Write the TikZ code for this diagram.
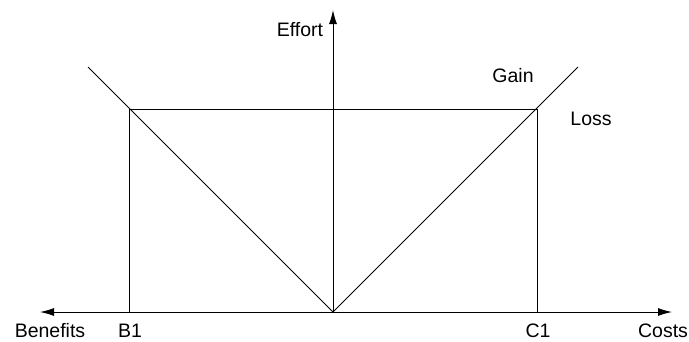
\documentclass[tikz,border=0pt]{standalone}
\usepackage{fontspec}
\setmainfont{Liberation Sans}
\usetikzlibrary{arrows.meta}
\begin{document}
\begin{tikzpicture}[x=1pt,y=-1pt,
  ln/.style={line width=1pt,black},
  ax/.style={line width=1pt,-{Latex[length=14pt,width=8pt]}},
  lbl/.style={font=\fontsize{19.5}{22}\selectfont,inner sep=0pt,anchor=base}]
\useasboundingbox (0,0) rectangle (689,341);
\coordinate (O) at (333,312);
\coordinate (L) at (40,312);
\coordinate (R) at (672,312);
\coordinate (T) at (333,10);
\coordinate (LD) at (88,67);
\coordinate (RD) at (578,67);
\coordinate (B1t) at (129,109);
\coordinate (C1t) at (537,109);
\coordinate (B1b) at (129,312);
\coordinate (C1b) at (537,312);
\draw[ax] (O) -- (L);
\draw[ax] (O) -- (R);
\draw[ax] (O) -- (T);
\draw[ln] (LD) -- (O) -- (RD);
\draw[ln] (B1b) -- (B1t) -- (C1t) -- (C1b);
\node[lbl] (eff) at (300,36.7) {Effort};
\node[lbl] (gain) at (513,82) {Gain};
\node[lbl] (loss) at (591,125) {Loss};
\node[lbl] (ben) at (50,337) {Benefits};
\node[lbl] (b1) at (130,337) {B1};
\node[lbl] (c1) at (538,337) {C1};
\node[lbl] (cst) at (663,337) {Costs};
\end{tikzpicture}
\end{document}
